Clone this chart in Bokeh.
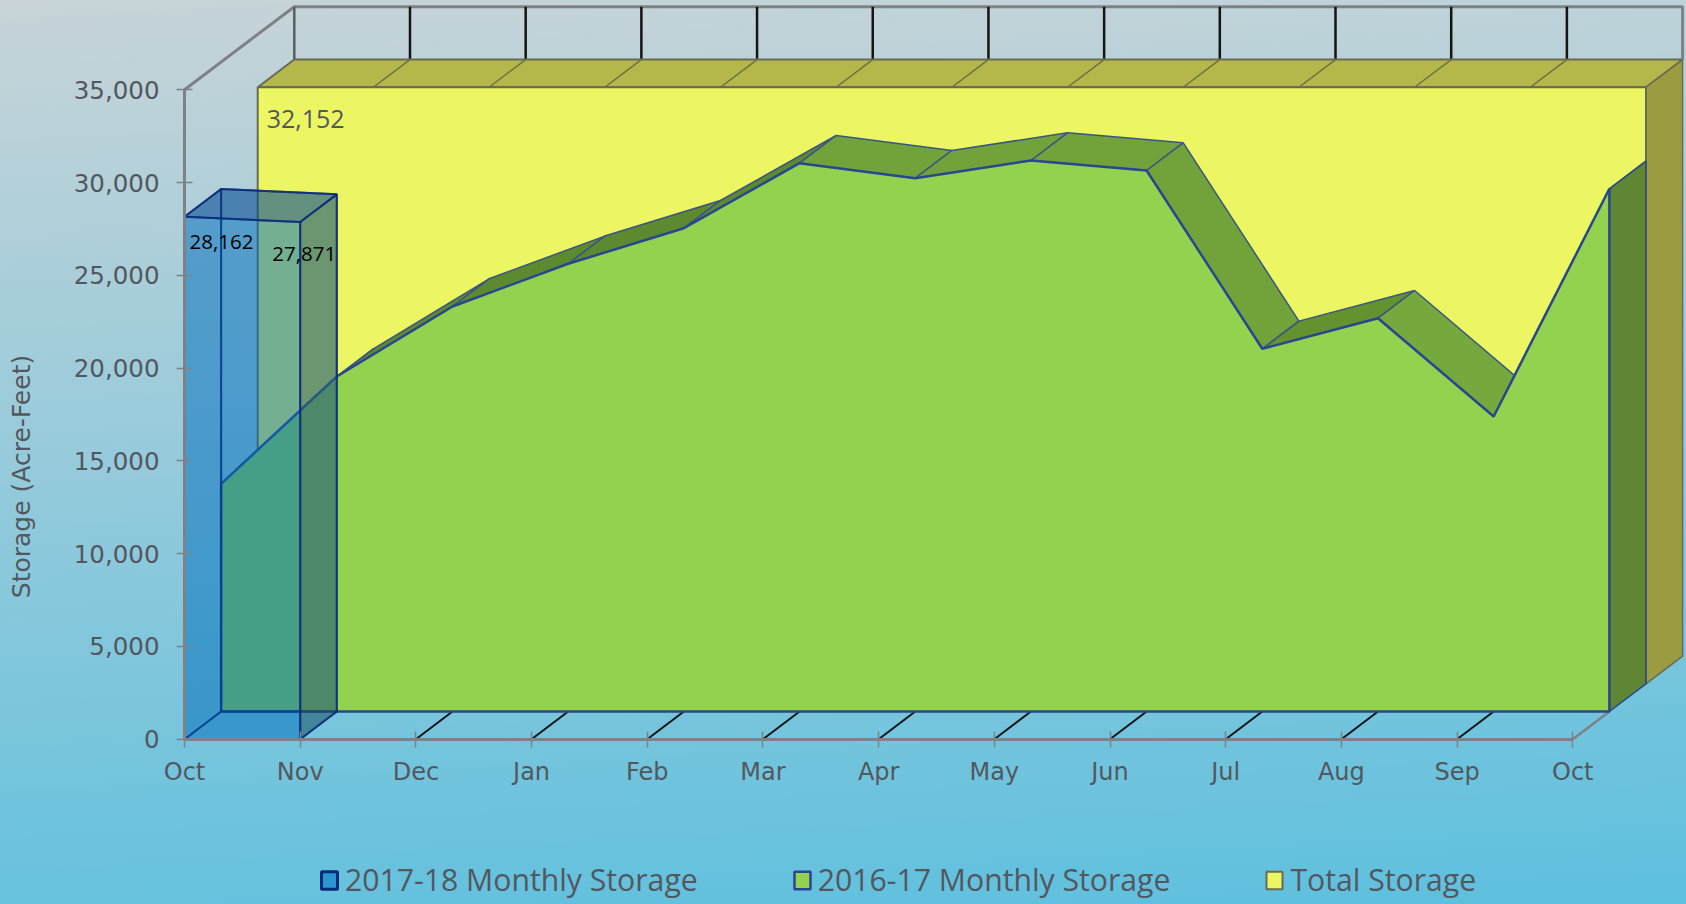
from bokeh.embed import file_html
from bokeh.resources import INLINE
from bokeh.plotting import figure
from bokeh.models import FixedTicker, Label, Legend, LegendItem, NumeralTickFormatter
from bokeh.core.properties import value

# ---- data ----
months = ["Oct", "Nov", "Dec", "Jan", "Feb", "Mar", "Apr", "May", "Jun", "Jul", "Aug", "Sep", "Oct"]
storage_2016_17 = [12272, 18055, 21828, 24130, 26048, 29552, 28743, 29697, 29158, 19548, 21198, 15900, 28172]
storage_2017_18 = [28162, 27871]
total_storage = 32152
y_ticks = [0, 5000, 10000, 15000, 20000, 25000, 30000, 35000]
axis_top = 35000

# ---- projection of the 3-D chart (one layer of depth per series) ----
PX_MONTH = 115.69
PX_VALUE = 649.4 / 35000
DX = 36.6 / PX_MONTH
DV = 27.7 / PX_VALUE
W, H = 1686, 904
X0, Y0 = 184, 738.7
n = len(months) - 1


def px(i, layer):
    return i + layer * DX


def vy(v, layer):
    return v + layer * DV


p = figure(width=W, height=H, toolbar_location=None, output_backend="svg", min_border=0,
           x_range=(-X0 / PX_MONTH, (W - X0) / PX_MONTH),
           y_range=(-(H - Y0) / PX_VALUE, Y0 / PX_VALUE))
p.styles = {"background": "linear-gradient(177deg, #C8D4D8 0%, #5DC0DE 100%)"}
p.background_fill_alpha = 0
p.border_fill_alpha = 0
p.outline_line_color = None
p.grid.visible = False

GREY = "#7E8286"
TXT = "#53575E"
INDIGO = "#2B4690"
EDGE = "#3A5585"
OLIVE = "#686B55"

# back wall frame
p.line([px(0, 0), px(0, 3), px(n, 3), px(n, 3)],
       [axis_top, vy(axis_top, 3), vy(axis_top, 3), vy(total_storage, 3)], line_color=GREY, line_width=3)
for i in range(0, n):
    p.line([px(i, 3), px(i, 3)], [vy(axis_top, 3), vy(total_storage, 3)],
           line_color="#5A5F62" if i == 0 else "#141414", line_width=2.5)

# floor lines
for i in range(2, n):
    p.line([px(i, 0), px(i, 1)], [0, vy(0, 1)], line_color="#101418", line_width=2)
p.line([px(n, 0), px(n, 1)], [0, vy(0, 1)], line_color=GREY, line_width=2.5)

# legend key for the blue series: the block itself is translucent, so the key is
# a solid copy of its shape, placed in the plane fully hidden behind the yellow face
a, b = storage_2017_18
blue_key = p.patch([px(2, 2), px(3, 2), px(3, 2), px(2, 2)], [vy(0, 2), vy(0, 2), vy(b, 2), vy(a, 2)],
                   fill_color="#2B96D0", line_color="#0A2A7A", line_width=3)

# yellow block: top, right side, front
p.patch([px(0, 2), px(0, 3), px(n, 3), px(n, 2)],
        [vy(total_storage, 2), vy(total_storage, 3), vy(total_storage, 3), vy(total_storage, 2)],
        fill_color="#B4B84B", line_color=OLIVE, line_width=2)
for i in range(1, n):
    p.line([px(i, 2), px(i, 3)], [vy(total_storage, 2), vy(total_storage, 3)],
           line_color="#6E7040", line_width=1.5)
p.patch([px(n, 2), px(n, 3), px(n, 3), px(n, 2)],
        [vy(0, 2), vy(0, 3), vy(total_storage, 3), vy(total_storage, 2)],
        fill_color="#9A9C3F", line_color=OLIVE, line_width=1.5)
yellow_front = p.patch([px(0, 2), px(n, 2), px(n, 2), px(0, 2)],
                       [vy(0, 2), vy(0, 2), vy(total_storage, 2), vy(total_storage, 2)],
                       fill_color="#ECF562", line_color=OLIVE, line_width=2)

# green ribbon
ribbon_colors = ["#5E8A2F", "#5E8A2F", "#5E8A2F", "#5E8A2F", "#5E8A2F", "#72A33B",
                 "#72A33B", "#72A33B", "#72A33B", "#64922F", "#76A93D", "#5E8A2F"]
for i in range(n):
    v0, v1 = storage_2016_17[i], storage_2016_17[i + 1]
    p.patch([px(i, 1), px(i + 1, 1), px(i + 1, 2), px(i, 2)],
            [vy(v0, 1), vy(v1, 1), vy(v1, 2), vy(v0, 2)],
            fill_color=ribbon_colors[i], line_color=EDGE, line_width=1.5)
p.patch([px(n, 1), px(n, 2), px(n, 2), px(n, 1)],
        [vy(0, 1), vy(0, 2), vy(storage_2016_17[-1], 2), vy(storage_2016_17[-1], 1)],
        fill_color="#5F8733", line_color=INDIGO, line_width=1.5)
green_x = [px(0, 1)] + [px(i, 1) for i in range(n + 1)] + [px(n, 1)]
green_y = [vy(0, 1)] + [vy(v, 1) for v in storage_2016_17] + [vy(0, 1)]
green_front = p.patch(green_x, green_y, fill_color="#92D24F", line_color=INDIGO, line_width=2.5)

# translucent blue block
NAVY = "#0A2A7A"
BLUE = "#006CBE"
faces = [
    ([px(0, 1), px(1, 1), px(1, 1), px(0, 1)], [vy(0, 1), vy(0, 1), vy(b, 1), vy(a, 1)], BLUE, 0.3),
    ([px(0, 0), px(1, 0), px(1, 1), px(0, 1)], [0, 0, vy(0, 1), vy(0, 1)], BLUE, 0.3),
    ([px(0, 0), px(0, 1), px(0, 1), px(0, 0)], [0, vy(0, 1), vy(a, 1), a], BLUE, 0.3),
    ([px(1, 0), px(1, 1), px(1, 1), px(1, 0)], [0, vy(0, 1), vy(b, 1), b], "#316062", 0.5),
    ([px(0, 0), px(1, 0), px(1, 1), px(0, 1)], [a, b, vy(b, 1), vy(a, 1)], "#0A3F85", 0.42),
    ([px(0, 0), px(1, 0), px(1, 0), px(0, 0)], [0, 0, b, a], BLUE, 0.3),
]
for fx, fy, col, alpha in faces:
    p.patch(fx, fy, fill_color=col, fill_alpha=alpha, line_color=NAVY, line_alpha=0.75, line_width=2)

# axes
p.xaxis.fixed_location = 0
p.yaxis.fixed_location = 0
p.xaxis.bounds = (0, n)
p.yaxis.bounds = (0, axis_top)
p.xaxis.ticker = FixedTicker(ticks=list(range(n + 1)))
p.xaxis.major_label_overrides = {i: m for i, m in enumerate(months)}
p.yaxis.ticker = FixedTicker(ticks=y_ticks)
p.yaxis.formatter = NumeralTickFormatter(format="0,0")
for ax, standoff, size in ((p.xaxis, 11, "24px"), (p.yaxis, 17, "24.5px")):
    ax.axis_line_color = GREY
    ax.axis_line_width = 3
    ax.major_tick_line_color = GREY
    ax.major_tick_line_width = 1.5
    ax.major_tick_in = 8
    ax.major_tick_out = 8
    ax.minor_tick_line_color = None
    ax.major_label_text_font = "DejaVu Sans"
    ax.major_label_text_font_size = size
    ax.major_label_text_color = TXT
    ax.major_label_standoff = standoff

p.add_layout(Label(x=21, y=H - 476, x_units="screen", y_units="screen", angle=90, angle_units="deg",
                   text="Storage (Acre-Feet)", text_align="center", text_baseline="middle",
                   text_font="DejaVu Sans", text_font_size="25px", text_color=TXT))

# value labels
p.text([px(0, 2)], [vy(total_storage, 2)], text=[f"{total_storage:,}"], text_font=value("Open Sans"),
       text_font_size="25px", text_color=TXT, text_align="left", text_baseline="middle",
       x_offset=9, y_offset=32)
p.text([0], [a], text=[f"{a:,}"], text_font=value("Open Sans"), text_font_size="20.5px", text_color="#000000",
       text_align="left", text_baseline="middle", x_offset=5, y_offset=25)
p.text([1], [b], text=[f"{b:,}"], text_font=value("Open Sans"), text_font_size="20.5px", text_color="#000000",
       text_align="right", text_baseline="middle", x_offset=36, y_offset=32)

legend = Legend(items=[LegendItem(label="2017-18 Monthly Storage", renderers=[blue_key]),
                       LegendItem(label="2016-17 Monthly Storage", renderers=[green_front]),
                       LegendItem(label="Total Storage", renderers=[yellow_front])],
                orientation="horizontal", location=(319, 4), spacing=94, glyph_width=20, glyph_height=22,
                label_standoff=6, padding=0, margin=0, background_fill_alpha=0, border_line_alpha=0,
                label_text_font="Open Sans", label_text_font_size="30.2px", label_text_color=TXT)
p.add_layout(legend, "center")

open("out.html", "w").write(file_html(p, INLINE))
